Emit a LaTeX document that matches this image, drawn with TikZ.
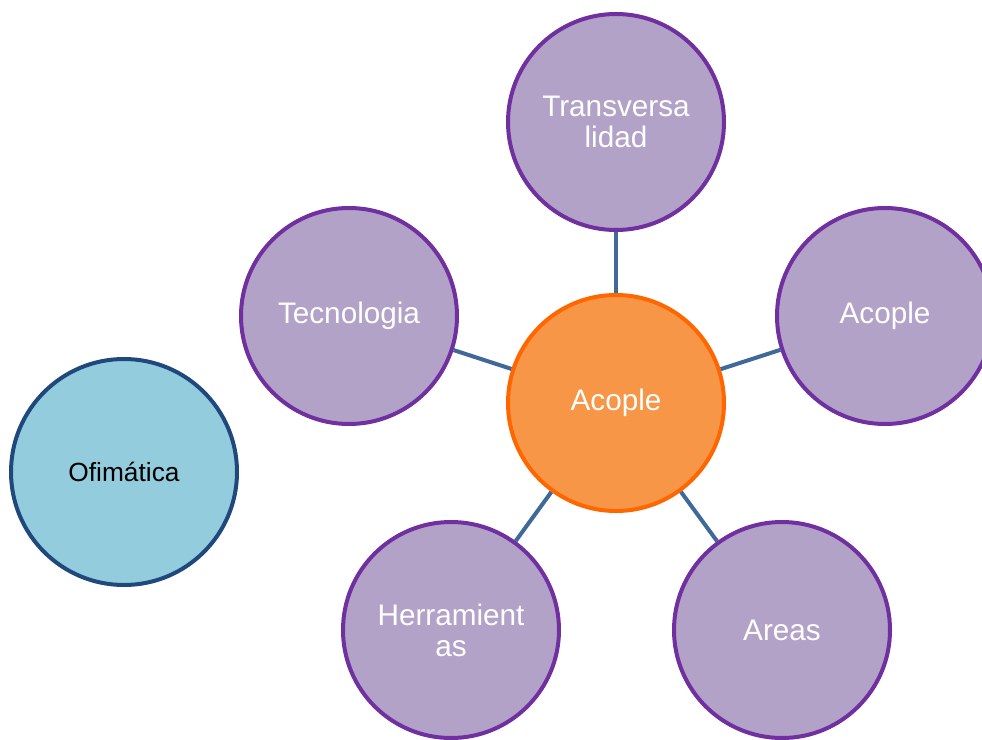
\documentclass[tikz,border=0pt]{standalone}
\usepackage{fontspec}
\setmainfont{Liberation Sans}
\definecolor{pfill}{HTML}{B3A2C7}
\definecolor{pline}{HTML}{7030A0}
\definecolor{ofill}{HTML}{F79646}
\definecolor{oline}{HTML}{FF6600}
\definecolor{bfill}{HTML}{93CDDD}
\definecolor{bline}{HTML}{1F497D}
\definecolor{cline}{RGB}{64,104,152}
\begin{document}
\begin{tikzpicture}[x=1pt,y=-1pt,
  bubble/.style={circle,line width=4pt,minimum size=216pt,inner sep=0pt,align=center,
    font=\fontsize{29.7}{31}\selectfont},
  purp/.style={bubble,fill=pfill,draw=pline,text=white},
  orng/.style={bubble,fill=ofill,draw=oline,text=white},
  blu/.style={bubble,fill=bfill,draw=bline,text=black,minimum size=226pt,
    font=\fontsize{26.3}{31}\selectfont},
  conn/.style={draw=cline,line width=4pt}]
\useasboundingbox (0,0) rectangle (982,739);
\node[orng] (cen) at (616,403) {Acople};
\node[purp] (tra) at (616,122) {Transversa\\lidad};
\node[purp] (tec) at (349,316) {Tecnologia};
\node[purp] (aco) at (885,316) {Acople};
\node[purp] (her) at (451,630) {Herramient\\as};
\node[purp] (are) at (782,630) {Areas};
\node[blu] (ofi) at (124,472) {Ofimática};
\draw[conn] (cen) -- (tra);
\draw[conn] (cen) -- (tec);
\draw[conn] (cen) -- (aco);
\draw[conn] (cen) -- (her);
\draw[conn] (cen) -- (are);
\end{tikzpicture}
\end{document}
